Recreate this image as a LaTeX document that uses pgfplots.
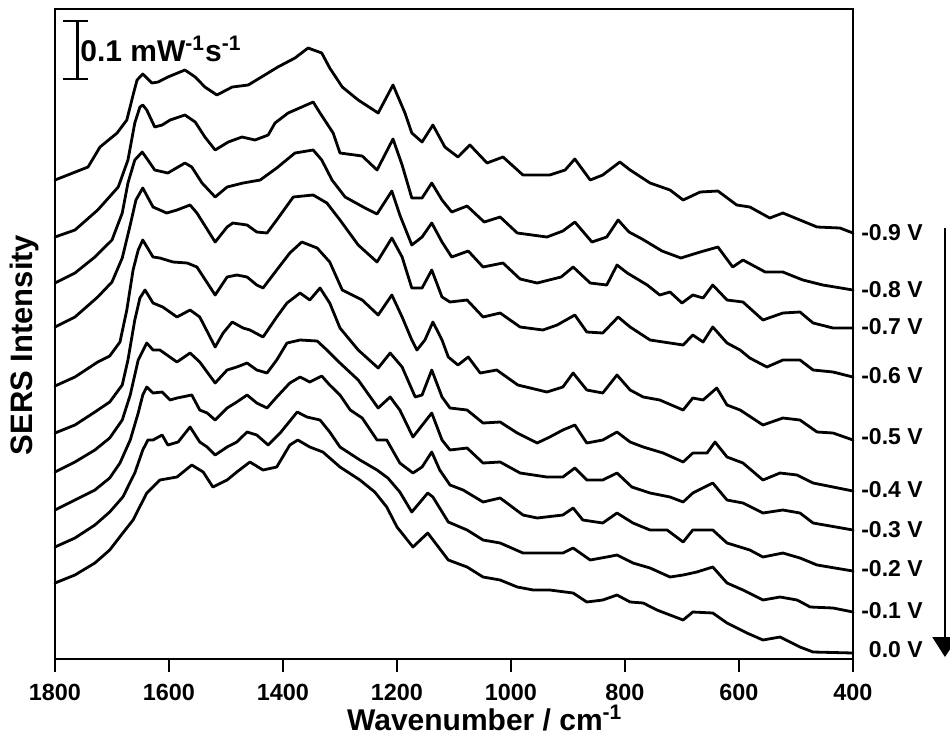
\documentclass[border=0pt]{standalone}
\usepackage{fontspec}
\setmainfont{Liberation Sans}
\usepackage{pgfplots}
\pgfplotsset{compat=1.18}
\pgfplotscreateplotcyclelist{speclist}{black,solid,mark=none,line width=1.4pt,line join=round,line cap=round\\}
\begin{document}
\begin{tikzpicture}
\begin{axis}[
  at={(0,0)}, anchor=south west,
  scale only axis, width=399pt, height=325pt,
  x dir=reverse, xmin=400, xmax=1800,
  y dir=reverse, ymin=9, ymax=659,
  xtick={400,600,...,1800},
  ytick=\empty,
  tick align=outside,
  xtick pos=left,
  major tick length=6.5pt,
  axis line style={line width=1.3pt},
  major tick style={line width=1.3pt, black},
  tick label style={font=\fontsize{11.7}{12}\selectfont\bfseries},
  xticklabel style={yshift=-2.5pt},
  /pgf/number format/assume math mode=true,
  /pgf/number format/1000 sep={},
  clip=false,
  cycle list name=speclist,
]
% -0.9 V
\addplot coordinates {(1800,180)(1742,167)(1721,147)(1691,133)(1674,120)(1663,95)(1656,80)(1646,74)(1630,83)(1619,82)(1602,77)(1572,70)(1554,77)(1537,87)(1516,95)(1489,87)(1461,85)(1432,75)(1409,67)(1379,58)(1356,48)(1332,53)(1318,68)(1296,87)(1268,100)(1233,113)(1207,85)(1186,113)(1174,133)(1156,142)(1137,125)(1116,147)(1093,157)(1072,145)(1042,163)(1014,157)(979,175)(932,175)(905,170)(888,159)(861,180)(839,175)(809,162)(791,170)(756,183)(721,190)(698,200)(668,192)(637,191)(604,205)(581,207)(546,218)(523,213)(493,220)(463,227)(423,228)(400,233)};
% -0.8 V
\addplot coordinates {(1800,237)(1765,230)(1725,210)(1689,187)(1672,160)(1660,123)(1651,107)(1646,105)(1639,110)(1625,127)(1612,125)(1598,120)(1572,115)(1554,122)(1537,137)(1519,150)(1496,142)(1472,137)(1449,140)(1426,135)(1414,123)(1391,113)(1347,102)(1335,113)(1312,133)(1300,153)(1261,156)(1235,170)(1207,139)(1191,165)(1174,198)(1156,198)(1139,183)(1121,200)(1104,212)(1077,206)(1047,222)(1019,217)(989,233)(937,237)(909,231)(888,222)(858,242)(832,237)(812,220)(793,232)(770,239)(735,251)(702,258)(668,252)(637,247)(611,267)(593,260)(554,272)(523,272)(488,280)(453,285)(400,290)};
% -0.7 V
\addplot coordinates {(1800,283)(1765,273)(1730,257)(1700,240)(1682,213)(1672,183)(1660,160)(1647,152)(1637,160)(1625,170)(1602,173)(1572,163)(1560,167)(1542,183)(1519,197)(1498,187)(1470,183)(1440,180)(1411,168)(1379,153)(1347,150)(1332,160)(1314,180)(1291,197)(1256,208)(1235,214)(1209,191)(1195,215)(1174,245)(1156,237)(1139,223)(1121,242)(1104,257)(1075,251)(1049,267)(1014,263)(984,279)(954,283)(912,277)(891,267)(861,283)(832,285)(814,265)(796,273)(761,285)(739,295)(721,292)(700,303)(681,295)(663,298)(646,285)(621,300)(593,302)(558,320)(523,313)(493,312)(470,323)(435,328)(400,328)};
% -0.6 V
\addplot coordinates {(1800,327)(1765,317)(1725,297)(1700,282)(1682,258)(1668,225)(1658,200)(1646,188)(1628,207)(1604,213)(1586,210)(1563,205)(1551,213)(1519,242)(1498,227)(1488,223)(1463,225)(1446,232)(1428,233)(1411,220)(1382,197)(1347,195)(1323,203)(1300,220)(1268,245)(1235,262)(1209,238)(1191,257)(1174,288)(1156,288)(1139,270)(1121,297)(1107,302)(1077,300)(1049,317)(1019,313)(984,327)(944,330)(919,325)(888,315)(867,332)(839,333)(812,317)(791,327)(756,340)(698,345)(681,335)(663,342)(646,327)(621,343)(598,350)(581,358)(551,367)(523,360)(493,360)(470,370)(435,372)(400,377)};
% -0.5 V
\addplot coordinates {(1800,386)(1765,377)(1725,362)(1704,356)(1686,342)(1674,310)(1663,270)(1654,250)(1646,240)(1628,257)(1616,258)(1593,262)(1568,263)(1551,267)(1519,295)(1498,277)(1481,275)(1463,277)(1446,285)(1435,288)(1411,270)(1388,253)(1367,242)(1340,248)(1318,262)(1296,290)(1261,300)(1233,315)(1209,295)(1191,317)(1174,340)(1165,350)(1151,340)(1137,322)(1121,340)(1110,357)(1093,365)(1075,357)(1054,373)(1025,370)(988,385)(937,392)(909,387)(891,373)(867,390)(839,393)(814,375)(791,390)(768,397)(739,400)(698,410)(681,398)(663,400)(639,388)(621,405)(598,410)(558,425)(523,418)(493,420)(463,432)(435,433)(400,440)};
% -0.4 V
\addplot coordinates {(1800,433)(1765,425)(1730,412)(1704,402)(1682,385)(1672,360)(1660,320)(1651,298)(1642,290)(1628,303)(1611,307)(1586,317)(1563,310)(1546,317)(1519,347)(1505,333)(1489,322)(1470,328)(1458,330)(1435,337)(1411,317)(1393,303)(1370,293)(1353,300)(1335,288)(1318,303)(1300,328)(1268,350)(1233,368)(1212,353)(1191,367)(1168,397)(1156,395)(1139,370)(1121,397)(1107,408)(1077,410)(1049,423)(1019,422)(989,433)(954,443)(932,437)(909,430)(888,425)(867,443)(839,440)(814,432)(791,442)(768,447)(733,453)(698,462)(681,453)(656,453)(642,442)(621,457)(593,463)(558,480)(528,473)(498,475)(470,483)(400,491)};
% -0.3 V
\addplot coordinates {(1800,472)(1765,462)(1730,450)(1704,438)(1682,420)(1668,395)(1654,360)(1639,343)(1628,350)(1616,350)(1586,362)(1563,353)(1546,362)(1519,383)(1498,370)(1481,367)(1463,363)(1446,370)(1428,373)(1411,360)(1393,343)(1370,340)(1340,341)(1323,350)(1300,363)(1268,380)(1233,408)(1212,397)(1195,410)(1172,437)(1139,413)(1121,440)(1107,450)(1077,448)(1049,463)(1019,462)(984,473)(937,477)(909,477)(888,468)(867,480)(839,480)(814,473)(788,487)(756,493)(721,497)(698,502)(681,493)(646,483)(621,500)(593,503)(558,513)(523,510)(493,513)(470,523)(400,530)};
% -0.2 V
\addplot coordinates {(1800,510)(1765,500)(1730,490)(1704,478)(1686,463)(1668,440)(1654,413)(1646,395)(1639,387)(1628,393)(1612,392)(1598,400)(1586,398)(1560,395)(1546,410)(1533,413)(1519,420)(1498,408)(1481,402)(1463,395)(1446,403)(1428,408)(1411,397)(1388,383)(1370,377)(1353,382)(1332,376)(1318,385)(1300,395)(1282,410)(1261,418)(1235,440)(1218,440)(1195,463)(1172,473)(1156,467)(1139,452)(1125,470)(1107,485)(1084,490)(1049,502)(1019,498)(979,515)(954,518)(909,515)(891,508)(874,520)(839,523)(814,513)(786,523)(756,530)(726,530)(698,542)(681,530)(646,530)(621,543)(581,550)(558,557)(523,553)(493,558)(463,565)(400,571)};
% -0.1 V
\addplot coordinates {(1800,547)(1765,538)(1730,525)(1704,512)(1681,497)(1660,473)(1646,450)(1637,440)(1628,440)(1612,435)(1602,445)(1584,442)(1563,427)(1546,442)(1533,447)(1519,455)(1498,447)(1481,442)(1463,432)(1446,435)(1426,445)(1405,433)(1375,412)(1358,417)(1335,420)(1318,432)(1300,447)(1265,460)(1235,470)(1216,478)(1195,492)(1174,512)(1146,493)(1137,497)(1110,522)(1077,530)(1049,540)(1019,543)(979,553)(944,553)(909,553)(891,548)(861,560)(832,557)(814,555)(786,563)(756,568)(721,577)(698,575)(674,572)(646,567)(621,583)(593,590)(558,600)(528,597)(498,600)(475,607)(435,608)(400,612)};
% 0.0 V
\addplot coordinates {(1800,583)(1765,575)(1730,563)(1704,550)(1681,533)(1663,520)(1639,493)(1616,480)(1586,477)(1560,465)(1540,472)(1523,487)(1498,480)(1481,472)(1458,462)(1435,470)(1411,467)(1388,445)(1374,440)(1353,447)(1330,452)(1300,467)(1265,480)(1239,492)(1218,507)(1200,527)(1172,547)(1146,533)(1110,560)(1077,567)(1049,577)(1019,580)(989,587)(961,590)(932,590)(891,593)(867,602)(839,600)(814,595)(791,602)(768,603)(744,610)(698,620)(681,612)(646,613)(621,623)(586,633)(558,640)(528,637)(493,647)(470,652)(400,653)};
% scale bar
\draw[line width=1.3pt] (axis cs:1761,21) -- (axis cs:1761,79);
\draw[line width=1.3pt] (axis cs:1786,21) -- (axis cs:1742,21);
\draw[line width=1.3pt] (axis cs:1786,79) -- (axis cs:1742,79);
\node[anchor=base west, inner sep=0pt, font=\fontsize{15}{15}\selectfont\bfseries] at (axis cs:1756,61) {0.1 mW\textsuperscript{-1}s\textsuperscript{-1}};
% potential labels
\begin{scope}[every node/.style={anchor=east, inner sep=0pt, font=\fontsize{11.5}{12}\selectfont\bfseries}]
\node at (axis cs:277,233) {-0.9 V};
\node at (axis cs:277,290) {-0.8 V};
\node at (axis cs:277,327) {-0.7 V};
\node at (axis cs:277,376) {-0.6 V};
\node at (axis cs:277,437) {-0.5 V};
\node at (axis cs:277,490) {-0.4 V};
\node at (axis cs:277,530) {-0.3 V};
\node at (axis cs:277,569) {-0.2 V};
\node at (axis cs:277,611) {-0.1 V};
\node at (axis cs:277,650) {0.0 V};
\end{scope}
% arrow
\draw[line width=1.3pt] (axis cs:238.6,228) -- (axis cs:238.6,640);
\fill (axis cs:261,637) -- (axis cs:216,637) -- (axis cs:238.6,657) -- cycle;
% axis labels
\node[rotate=90, font=\fontsize{15.5}{16}\selectfont\bfseries] at (axis cs:1854,345) {SERS Intensity};
\node[anchor=base, inner sep=0pt, font=\fontsize{15}{15}\selectfont\bfseries] at (axis cs:1046,730) {Wavenumber / cm\textsuperscript{-1}};
\end{axis}
\pgfresetboundingbox
\path[use as bounding box] (-27.5pt,-38pt) rectangle (447.5pt,329.5pt);
\end{tikzpicture}
\end{document}
